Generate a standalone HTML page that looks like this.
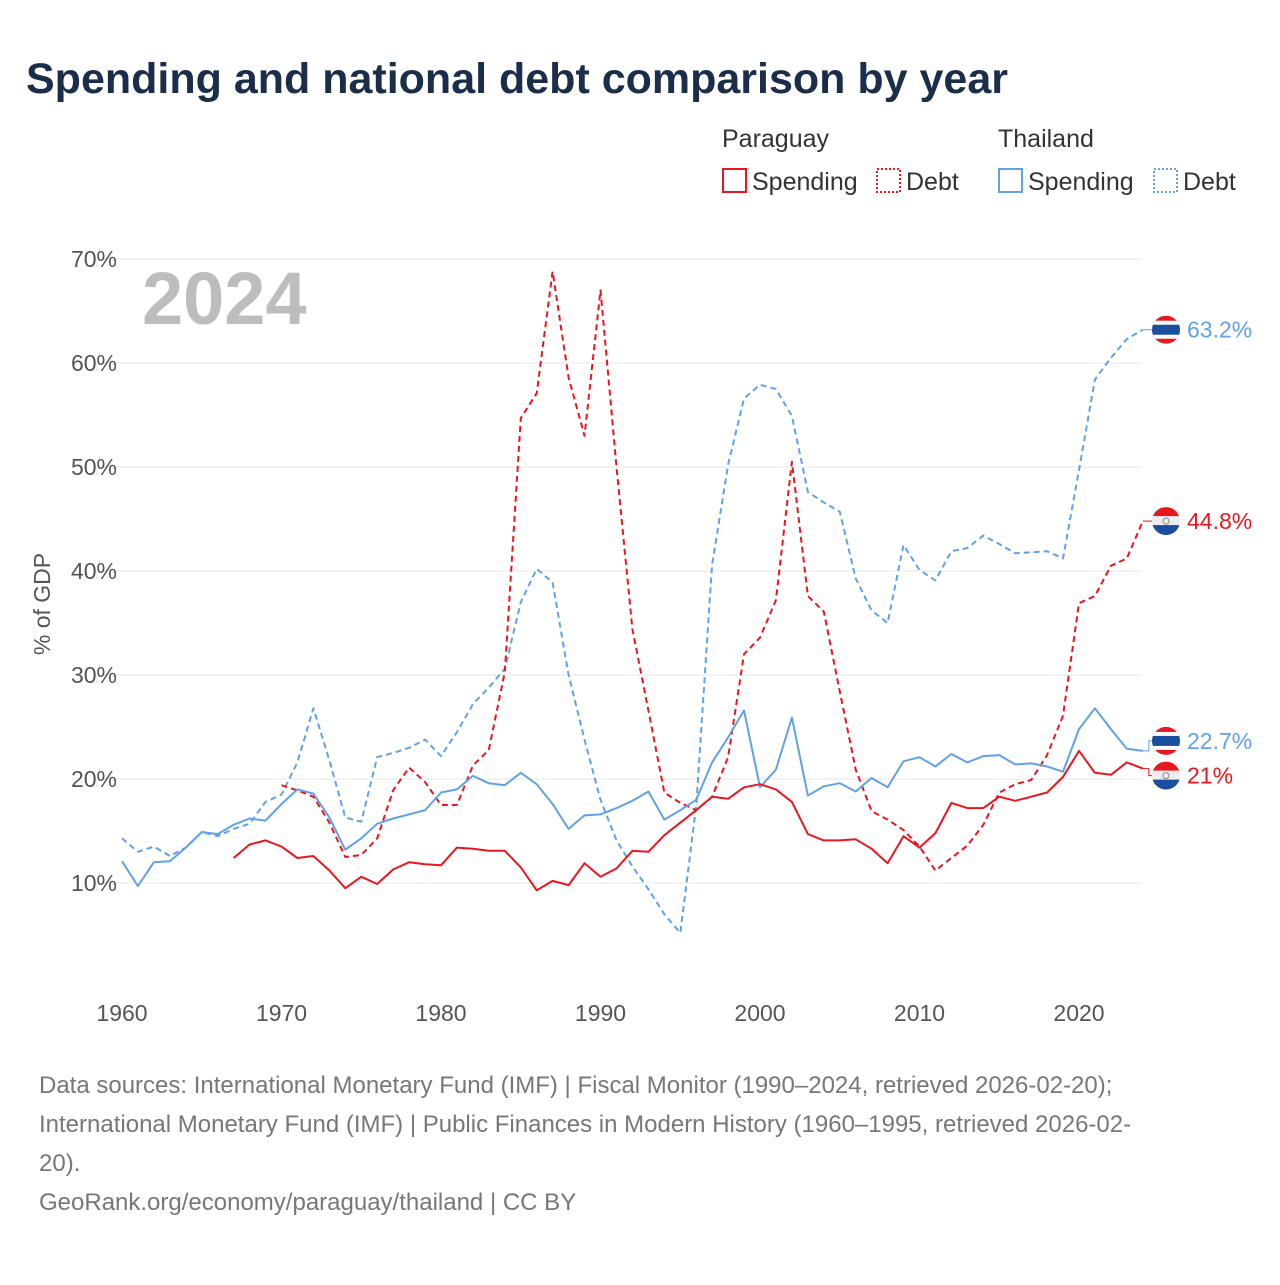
<!DOCTYPE html>
<html><head><meta charset="utf-8"><style>
body{margin:0;background:#fff;width:1280px;height:1280px;overflow:hidden;font-family:"Liberation Sans",sans-serif}
</style></head><body>
<svg id="chart" width="1280" height="1280" xmlns="http://www.w3.org/2000/svg" font-family="Liberation Sans, sans-serif">
<text x="26" y="93" font-size="43" font-weight="bold" fill="#1a2e4c">Spending and national debt comparison by year</text>
<g font-size="25" fill="#333">
<text x="722" y="147">Paraguay</text>
<text x="998" y="147">Thailand</text>
<g><rect x="723" y="169" width="23" height="23" fill="none" stroke="#e8171f" stroke-width="2"/><text x="752" y="190">Spending</text></g>
<g><rect x="877" y="169" width="23" height="23" fill="none" stroke="#e8171f" stroke-width="2" stroke-dasharray="2,2"/><text x="906" y="190">Debt</text></g>
<g><rect x="999" y="169" width="23" height="23" fill="none" stroke="#5fa2e6" stroke-width="2"/><text x="1028" y="190">Spending</text></g>
<g><rect x="1154" y="169" width="23" height="23" fill="none" stroke="#5fa2e6" stroke-width="2" stroke-dasharray="2,2"/><text x="1183" y="190">Debt</text></g>
</g>
<text x="142" y="324" font-size="74" font-weight="bold" fill="#bdbdbd">2024</text>
<text transform="translate(50,604) rotate(-90)" text-anchor="middle" font-size="23" fill="#555">% of GDP</text>
<g id="grid"></g><g id="yticks"></g><g id="xticks"></g><g id="series"></g><g id="ends"></g>
<g font-size="24" fill="#777">
<text x="39" y="1093">Data sources: International Monetary Fund (IMF) | Fiscal Monitor (1990–2024, retrieved 2026-02-20);</text>
<text x="39" y="1132">International Monetary Fund (IMF) | Public Finances in Modern History (1960–1995, retrieved 2026-02-</text>
<text x="39" y="1171">20).</text>
<text x="39" y="1210">GeoRank.org/economy/paraguay/thailand | CC BY</text>
</g>
</svg>
<script>
const yTicks=[10,20,30,40,50,60,70];
const xTicks=[1960,1970,1980,1990,2000,2010,2020];
const thSpendStart=1960;
const thSpend=[12.1,9.7,12.0,12.1,13.4,14.9,14.7,15.6,16.2,16.0,17.6,19.0,18.6,16.3,13.2,14.3,15.7,16.2,16.6,17.0,18.7,19.0,20.3,19.6,19.4,20.6,19.5,17.6,15.2,16.5,16.6,17.2,17.9,18.8,16.1,17.0,18.0,21.6,24.0,26.6,19.2,20.9,25.9,18.4,19.3,19.6,18.8,20.1,19.2,21.7,22.1,21.2,22.4,21.6,22.2,22.3,21.4,21.5,21.2,20.7,24.8,26.8,24.8,22.9,22.7];
const thDebtStart=1960;
const thDebt=[14.3,13.0,13.5,12.6,13.4,14.9,14.5,15.2,15.7,17.8,18.5,21.6,26.8,21.8,16.3,15.9,22.1,22.5,23.0,23.8,22.2,24.5,27.2,28.8,30.6,37.0,40.2,38.9,30.0,23.8,18.0,14.1,11.6,9.4,7.0,5.2,17.4,40.6,50.2,56.6,57.9,57.5,54.9,47.6,46.6,45.7,39.3,36.2,35.0,42.5,40.1,39.1,41.9,42.2,43.4,42.6,41.7,41.8,41.9,41.2,49.7,58.4,60.5,62.3,63.2];
const pySpendStart=1967;
const pySpend=[12.4,13.7,14.1,13.5,12.4,12.6,11.2,9.5,10.6,9.9,11.3,12.0,11.8,11.7,13.4,13.3,13.1,13.1,11.5,9.3,10.2,9.8,11.9,10.6,11.4,13.1,13.0,14.6,15.8,17.0,18.3,18.1,19.2,19.5,19.0,17.8,14.7,14.1,14.1,14.2,13.3,11.9,14.5,13.4,14.8,17.7,17.2,17.2,18.3,17.9,18.3,18.7,20.2,22.7,20.6,20.4,21.6,21.0];
const pyDebtStart=1970;
const pyDebt=[19.4,18.9,18.3,15.8,12.5,12.7,14.3,18.9,21.1,19.7,17.5,17.5,21.3,22.8,30.3,54.7,57.1,68.8,58.6,53.0,67.0,50.0,34.4,26.6,18.7,17.7,17.0,18.3,22.1,32.0,33.6,37.2,50.5,37.6,36.1,28.4,20.9,16.9,16.1,15.1,13.5,11.2,12.4,13.6,15.6,18.7,19.5,19.9,22.3,26.1,36.9,37.6,40.5,41.2,44.8];

const NS="http://www.w3.org/2000/svg";
const X=yr=>122+(yr-1960)*15.95;
const Y=v=>883-(v-10)*10.4;
function mk(tag,attrs,parent){const e=document.createElementNS(NS,tag);for(const k in attrs)e.setAttribute(k,attrs[k]);parent.appendChild(e);return e;}
const grid=document.getElementById('grid'),yt=document.getElementById('yticks'),xt=document.getElementById('xticks'),ser=document.getElementById('series'),ends=document.getElementById('ends');
yTicks.forEach(v=>{
  const l=mk('line',{x1:95,x2:1141,y1:Y(v),y2:Y(v),stroke:'#e6e6e6','stroke-width':1},grid);
  
  
  const t=mk('text',{x:117,y:Y(v)+8,'text-anchor':'end','font-size':23,fill:'#555'},yt);t.textContent=v+'%';
  
  
});
xTicks.forEach(yr=>{
  const t=mk('text',{x:X(yr),y:1021,'text-anchor':'middle','font-size':23,fill:'#555'},xt);t.textContent=yr;
  
  
});
function line(data,start,color,dash,name){
  const d=data.map((v,i)=>(i?'L':'M')+X(start+i).toFixed(1)+','+Y(v).toFixed(1)).join('');
  const p=mk('path',{d:d,fill:'none',stroke:color,'stroke-width':2,'stroke-dasharray':dash?'6,4':'none','stroke-linejoin':'round'},ser);
  
  
}
line(thDebt,thDebtStart,'#5fa2e6',true,'thailand-debt-line');
line(pyDebt,pyDebtStart,'#e8171f',true,'paraguay-debt-line');
line(thSpend,thSpendStart,'#5fa2e6',false,'thailand-spending-line');
line(pySpend,pySpendStart,'#e8171f',false,'paraguay-spending-line');
function flag(cy,th){
  const g=mk('g',{},ends);
  
  
  const cx=1166,r=14;
  const cp='c'+Math.round(cy);
  const c=mk('clipPath',{id:cp},g);mk('circle',{cx:cx,cy:cy,r:r},c);
  const gg=mk('g',{'clip-path':'url(#'+cp+')'},g);
  if(th){
    mk('rect',{x:cx-r,y:cy-r,width:28,height:28,fill:'#e8171f'},gg);
    mk('rect',{x:cx-r,y:cy-r+5,width:28,height:18,fill:'#fff'},gg);
    mk('rect',{x:cx-r,y:cy-r+9,width:28,height:10,fill:'#1a4fa0'},gg);
  }else{
    mk('rect',{x:cx-r,y:cy-r,width:28,height:10,fill:'#e8171f'},gg);
    mk('rect',{x:cx-r,y:cy-r+9,width:28,height:10,fill:'#eee'},gg);
    mk('rect',{x:cx-r,y:cy-r+18,width:28,height:10,fill:'#1a4fa0'},gg);
    mk('circle',{cx:cx,cy:cy,r:3,fill:'none',stroke:'#888','stroke-width':1},gg);
  }
}
function endLabel(val,yPos,color,th,name){
  const ly=yPos;
  mk('path',{d:'M'+X(2024)+','+Y(val)+'H'+(X(2024)+6)+'V'+ly+'H1152',fill:'none',stroke:color,'stroke-width':1},ends);
  flag(ly,th);
  const t=mk('text',{x:1187,y:ly+8,'font-size':23,fill:color},ends);t.textContent=(Math.round(val*10)/10)+'%';
  
  
}
endLabel(thDebt[thDebt.length-1],Y(thDebt[thDebt.length-1]),'#5fa2e6',true,'thailand-debt-end-label');
endLabel(pyDebt[pyDebt.length-1],Y(pyDebt[pyDebt.length-1]),'#e8171f',false,'paraguay-debt-end-label');
endLabel(thSpend[thSpend.length-1],Y(thSpend[thSpend.length-1])-10,'#5fa2e6',true,'thailand-spending-end-label');
endLabel(pySpend[pySpend.length-1],Y(pySpend[pySpend.length-1])+7,'#e8171f',false,'paraguay-spending-end-label');
</script>
</body></html>
